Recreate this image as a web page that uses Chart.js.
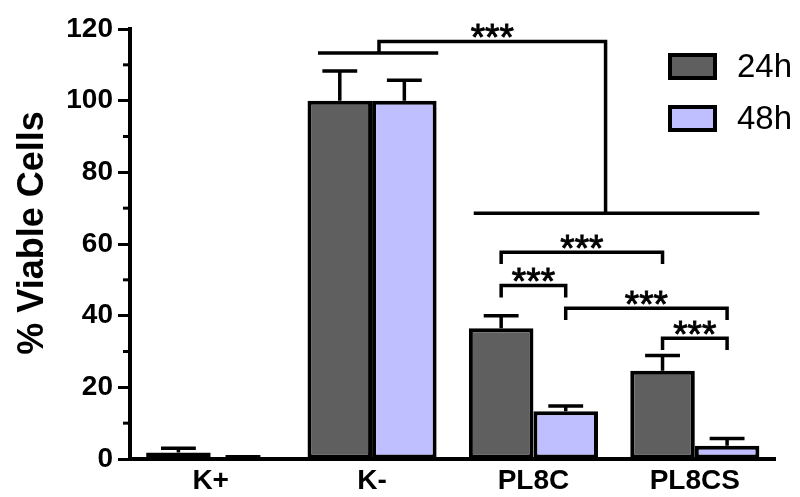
<!DOCTYPE html>
<html><head><meta charset="utf-8">
<script src="https://cdn.jsdelivr.net/npm/chart.js@4.4.1/dist/chart.umd.min.js"></script>
<style>html,body{margin:0;padding:0;background:#fff}#wrap{width:800px;height:497px}</style>
</head><body><div id="wrap"><canvas id="c" width="800" height="497"></canvas></div>
<script>
const categories = ['K+', 'K-', 'PL8C', 'PL8CS'];
const seriesNames = ['24h', '48h'];
const values24h = [1.8, 100, 36.5, 24.6];
const values48h = [0.4, 100, 13.3, 3.7];
const errors24h = [1.2, 8.3, 3.5, 4.3];
const errors48h = [0.2, 5.7, 1.5, 2.0];
const yTickValues = [0, 20, 40, 60, 80, 100, 120];
const yMinorTickValues = [10, 30, 50, 70, 90, 110];
const yTitle = '% Viable Cells';
const sigLabel = '***';
// group lines (x in category-index units, y in % units)
const groupLineFrom = [0.665, 1.63];
const groupLineTo = [1.41, 3.40];
const groupLineY = [113.3, 68.6];
// elbow connector between the two groups
const elbowX = [1.043, 2.447];
const elbowY = [113.3, 116.5, 68.6];
// brackets between bars: [category, series] pairs
const bracketFrom = [[2, 0], [2, 0], [2, 1], [3, 0]];
const bracketTo = [[3, 0], [2, 1], [3, 1], [3, 1]];
const bracketTop = [57.7, 48.4, 42.1, 33.7];
const bracketDrop = 3.3;

const FONT = "'Liberation Sans', Arial, Helvetica, sans-serif";
const COLORS = ['#5f5f5f', '#bfbfff'];
const errors = [errors24h, errors48h];

function centeredText(ctx, text, x, cy) {
  const m = ctx.measureText(text);
  const base = cy + (m.actualBoundingBoxAscent - m.actualBoundingBoxDescent) / 2;
  ctx.fillText(text, x, base);
  ctx.lineWidth = 0.9;
  ctx.strokeText(text, x, base);
}

const overlay = {
  id: 'overlay',
  afterDatasetsDraw(chart) {
    const ctx = chart.ctx;
    const xs = chart.scales.x, ys = chart.scales.y;
    const area = chart.chartArea;
    ctx.save();
    ctx.strokeStyle = '#000';
    ctx.fillStyle = '#000';
    // error bars
    ctx.lineWidth = 3.5;
    chart.data.datasets.forEach((ds, si) => {
      const meta = chart.getDatasetMeta(si);
      meta.data.forEach((bar, ci) => {
        const v = ds.data[ci], e = errors[si][ci];
        const y0 = ys.getPixelForValue(v), y1 = ys.getPixelForValue(v + e);
        const half = bar.width * 0.27;
        ctx.beginPath();
        ctx.moveTo(bar.x, y0); ctx.lineTo(bar.x, y1);
        ctx.moveTo(bar.x - half, y1); ctx.lineTo(bar.x + half, y1);
        ctx.stroke();
      });
    });
    // minor y ticks
    ctx.lineWidth = 3;
    yMinorTickValues.forEach(v => {
      const y = ys.getPixelForValue(v);
      ctx.beginPath(); ctx.moveTo(area.left - 7, y); ctx.lineTo(area.left, y); ctx.stroke();
    });
    // group lines
    ctx.lineWidth = 3.5;
    ctx.lineCap = 'butt';
    ctx.lineJoin = 'miter';
    groupLineY.forEach((gy, i) => {
      const y = ys.getPixelForValue(gy);
      ctx.beginPath();
      ctx.moveTo(xs.getPixelForValue(groupLineFrom[i]), y);
      ctx.lineTo(xs.getPixelForValue(groupLineTo[i]), y);
      ctx.stroke();
    });
    ctx.font = '37px ' + FONT;
    ctx.textAlign = 'center';
    // elbow
    const ex0 = xs.getPixelForValue(elbowX[0]), ex1 = xs.getPixelForValue(elbowX[1]);
    const eyTop = ys.getPixelForValue(elbowY[1]);
    ctx.lineWidth = 3.5;
    ctx.beginPath();
    ctx.moveTo(ex0, ys.getPixelForValue(elbowY[0]));
    ctx.lineTo(ex0, eyTop);
    ctx.lineTo(ex1, eyTop);
    ctx.lineTo(ex1, ys.getPixelForValue(elbowY[2]));
    ctx.stroke();
    centeredText(ctx, sigLabel, (ex0 + ex1) / 2, eyTop - 11);
    // brackets
    bracketFrom.forEach((f, i) => {
      const t = bracketTo[i];
      const a = chart.getDatasetMeta(f[1]).data[f[0]];
      const b = chart.getDatasetMeta(t[1]).data[t[0]];
      const top = ys.getPixelForValue(bracketTop[i]);
      const bot = ys.getPixelForValue(bracketTop[i] - bracketDrop);
      ctx.lineWidth = 3.5;
      ctx.beginPath();
      ctx.moveTo(a.x, bot); ctx.lineTo(a.x, top); ctx.lineTo(b.x, top); ctx.lineTo(b.x, bot);
      ctx.stroke();
      centeredText(ctx, sigLabel, (a.x + b.x) / 2, top - 10.5);
    });
    ctx.restore();
  },
  afterDraw(chart) {
    const ctx = chart.ctx;
    ctx.save();
    // y title
    ctx.fillStyle = '#000';
    ctx.font = 'bold 36px ' + FONT;
    ctx.textAlign = 'center';
    ctx.textBaseline = 'alphabetic';
    ctx.translate(43, 233);
    ctx.rotate(-Math.PI / 2);
    ctx.fillText(yTitle, 0, 0);
    ctx.restore();
    // legend
    ctx.save();
    chart.data.datasets.forEach((ds, i) => {
      const top = 53 + i * 52;
      ctx.fillStyle = ds.backgroundColor;
      ctx.fillRect(668, top, 49, 27);
      ctx.strokeStyle = '#000';
      ctx.lineWidth = 4;
      ctx.strokeRect(670, top + 2, 45, 23);
      ctx.fillStyle = '#000';
      ctx.font = '33px ' + FONT;
      ctx.textAlign = 'left';
      ctx.textBaseline = 'alphabetic';
      ctx.fillText(ds.label, 737, top + 24);
    });
    ctx.restore();
  }
};

new Chart(document.getElementById('c'), {
  type: 'bar',
  data: {
    labels: categories,
    datasets: [
      { label: seriesNames[0], data: values24h, backgroundColor: COLORS[0], borderColor: '#000', borderWidth: 4, borderSkipped: false },
      { label: seriesNames[1], data: values48h, backgroundColor: COLORS[1], borderColor: '#000', borderWidth: 4, borderSkipped: false }
    ]
  },
  options: {
    responsive: false,
    devicePixelRatio: 1,
    animation: false,
    layout: { padding: { top: 29, right: 24.5, left: 0, bottom: 0 } },
    datasets: { bar: { categoryPercentage: 0.8, barPercentage: 1.0 } },
    plugins: { legend: { display: false }, tooltip: { enabled: false } },
    scales: {
      x: {
        afterFit(s) { s.height = 38; },
        grid: { display: false, drawTicks: false },
        border: { display: true, color: '#000', width: 4 },
        ticks: { color: '#000', font: { family: FONT, size: 28, weight: 'bold' }, padding: 5 }
      },
      y: {
        min: 0, max: 120,
        afterFit(s) { s.width = 130; },
        afterBuildTicks(s) { s.ticks = yTickValues.map(v => ({ value: v })); },
        grid: { display: true, drawOnChartArea: false, drawTicks: true, tickLength: 12, tickWidth: 3, tickColor: '#000' },
        border: { display: true, color: '#000', width: 4 },
        ticks: { color: '#000', font: { family: FONT, size: 28, weight: 'bold' }, padding: 5 }
      }
    }
  },
  plugins: [overlay]
});
</script></body></html>
